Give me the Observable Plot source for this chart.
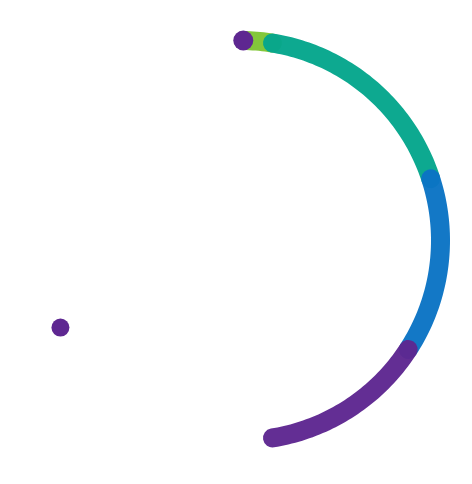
<!DOCTYPE html>
<html>
<head>
<meta charset="utf-8">
<script src="https://cdn.jsdelivr.net/npm/d3@7"></script>
<script src="https://cdn.jsdelivr.net/npm/@observablehq/plot@0.6"></script>
<style>
  body { margin: 0; background: #fff; }
</style>
</head>
<body>
<div id="chart"></div>
<script>
// segments of the ring, angles in degrees clockwise from 12 o'clock
const segNames = ["s1", "s2", "s3", "s4"];
const segStart = [0.8, 9.2, 72, 123];
const segEnd = [9.2, 72, 123, 170.8];
const segColors = ["#7fc534", "#05a68c", "#0b74c4", "#5e2791"];

// the two markers
const markerAngles = [0.8, 244.2];
const markerRadius = [10, 9];
const markerColor = "#5e2791";

const render = () => {
    // turn an angle into a point on the unit circle (y up)
    const toXY = (deg) => {
        const t = deg * Math.PI / 180;
        return {x: Math.sin(t), y: Math.cos(t)};
    };

    // sample each segment as a polyline
    const arcPoints = [];
    segNames.forEach((name, i) => {
        const steps = Math.max(2, Math.ceil(segEnd[i] - segStart[i]));
        for (let k = 0; k <= steps; k++) {
            const a = segStart[i] + (segEnd[i] - segStart[i]) * k / steps;
            arcPoints.push({seg: name, ...toXY(a)});
        }
    });

    const chart = Plot.plot({
        width: 472,
        height: 484,
        margin: 0,
        x: {axis: null, domain: [-1.2, 1.16]},
        y: {axis: null, domain: [-1.22, 1.2]},
        color: {domain: segNames, range: segColors},
        marks: [
            ...segNames.map((name) => Plot.line(arcPoints.filter(d => d.seg === name), {
                x: "x",
                y: "y",
                stroke: "seg",
                strokeWidth: 19,
                strokeLinecap: "round",
                strokeOpacity: 0.97
            })),
            // markers drawn one by one so the radius stays in pixels
            ...markerAngles.map((a, i) => Plot.dot([toXY(a)], {
                x: "x",
                y: "y",
                r: markerRadius[i],
                fill: markerColor,
                stroke: null
            }))
        ]
    });
    document.getElementById("chart").append(chart);
};

render();
</script>
</body>
</html>
